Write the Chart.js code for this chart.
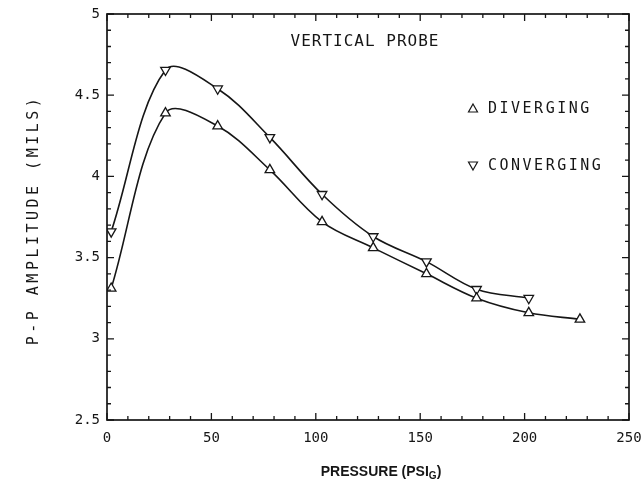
<!DOCTYPE html>
<html>
<head>
<meta charset="utf-8">
<script src="https://cdn.jsdelivr.net/npm/chart.js@4"></script>
<style>
  html, body { margin: 0; padding: 0; background: #fff; }
  #wrap { width: 642px; height: 493px; }
</style>
</head>
<body>
<div id="wrap"><canvas id="probeChart" width="642" height="493"></canvas></div>
<script>
// values
const divPressure = [2, 28, 53, 78, 103, 127.5, 153, 177, 202, 226.5];
const divAmplitude = [3.31, 4.39, 4.31, 4.04, 3.72, 3.56, 3.40, 3.25, 3.16, 3.12];
const convPressure = [2, 28, 53, 78, 103, 127.5, 153, 177, 202];
const convAmplitude = [3.66, 4.655, 4.54, 4.24, 3.89, 3.63, 3.475, 3.305, 3.25];

const xTicks = [0, 50, 100, 150, 200, 250];
const yTicks = [2.5, 3, 3.5, 4, 4.5, 5];

const ink = '#161616';
const mono = '"DejaVu Sans Mono", monospace';

function toPoints(xs, ys) {
    return xs.map(function (x, i) { return { x: x, y: ys[i] }; });
}

// frame, inward ticks and the texts of the old plotter sheet
const plotterDecor = {
    id: 'plotterDecor',
    afterDraw: function (chart) {
        const ctx = chart.ctx;
        const a = chart.chartArea;
        const xs = chart.scales.x;
        const ys = chart.scales.y;
        ctx.save();
        ctx.strokeStyle = ink;
        ctx.lineWidth = 1.7;
        ctx.strokeRect(a.left, a.top, a.right - a.left, a.bottom - a.top);

        ctx.lineWidth = 1.3;
        ctx.beginPath();
        for (let v = 0; v <= 250; v += 10) {
            const px = xs.getPixelForValue(v);
            const len = v % 50 === 0 ? 7 : 4;
            ctx.moveTo(px, a.bottom); ctx.lineTo(px, a.bottom - len);
            ctx.moveTo(px, a.top); ctx.lineTo(px, a.top + len);
        }
        for (let i = 0; i <= 25; i++) {
            const v = 2.5 + i * 0.1;
            const py = ys.getPixelForValue(v);
            const len = i % 5 === 0 ? 7 : 4;
            ctx.moveTo(a.left, py); ctx.lineTo(a.left + len, py);
            ctx.moveTo(a.right, py); ctx.lineTo(a.right - len, py);
        }
        ctx.stroke();

        ctx.fillStyle = ink;
        ctx.textBaseline = 'middle';

        // plot label
        ctx.font = '16px ' + mono;
        ctx.letterSpacing = '1px';
        ctx.textAlign = 'center';
        ctx.fillText('VERTICAL PROBE', 365, 42);

        // key
        ctx.font = '15px ' + mono;
        ctx.letterSpacing = '2.5px';
        ctx.textAlign = 'left';
        ctx.fillText('DIVERGING', 488, 109);
        ctx.fillText('CONVERGING', 488, 166);
        ctx.lineWidth = 1.2;
        ctx.beginPath();
        ctx.moveTo(473, 104); ctx.lineTo(477.5, 112); ctx.lineTo(468.5, 112); ctx.closePath();
        ctx.moveTo(473, 170); ctx.lineTo(477.5, 162); ctx.lineTo(468.5, 162); ctx.closePath();
        ctx.stroke();

        // y title
        ctx.save();
        ctx.translate(34, 220);
        ctx.rotate(-Math.PI / 2);
        ctx.font = '15px ' + mono;
        ctx.letterSpacing = '3.5px';
        ctx.textAlign = 'center';
        ctx.fillText('P-P AMPLITUDE (MILS)', 0, 0);
        ctx.restore();

        // x title with subscript G
        ctx.letterSpacing = '0px';
        ctx.textAlign = 'left';
        const main = 'PRESSURE (PSI';
        const bigFont = 'bold 14px "Liberation Sans Narrow", "Liberation Sans", Arial, sans-serif';
        const subFont = 'bold 10px "Liberation Sans Narrow", "Liberation Sans", Arial, sans-serif';
        ctx.font = bigFont;
        const w1 = ctx.measureText(main).width;
        const w3 = ctx.measureText(')').width;
        ctx.font = subFont;
        const w2 = ctx.measureText('G').width;
        const sx = 381 - (w1 + w2 + w3) / 2;
        ctx.font = bigFont;
        ctx.fillText(main, sx, 472);
        ctx.fillText(')', sx + w1 + w2, 472);
        ctx.font = subFont;
        ctx.fillText('G', sx + w1, 476);
        ctx.restore();
    }
};

const ctx = document.getElementById('probeChart').getContext('2d');
const probeChart = new Chart(ctx, {
    type: 'scatter',
    data: {
        datasets: [
            {
                label: 'DIVERGING',
                data: toPoints(divPressure, divAmplitude),
                showLine: true,
                tension: 0.35,
                borderColor: ink,
                borderWidth: 1.6,
                pointStyle: 'triangle',
                pointRadius: 5.5,
                pointBorderWidth: 1.3,
                pointBorderColor: ink,
                pointBackgroundColor: '#fff'
            },
            {
                label: 'CONVERGING',
                data: toPoints(convPressure, convAmplitude),
                showLine: true,
                tension: 0.35,
                borderColor: ink,
                borderWidth: 1.6,
                pointStyle: 'triangle',
                rotation: 180,
                pointRadius: 5.5,
                pointBorderWidth: 1.3,
                pointBorderColor: ink,
                pointBackgroundColor: '#fff'
            }
        ]
    },
    options: {
        responsive: false,
        animation: false,
        layout: { padding: { left: 0, right: 13, top: 14, bottom: 0 } },
        plugins: {
            legend: { display: false },
            tooltip: { enabled: false }
        },
        scales: {
            x: {
                type: 'linear',
                min: 0,
                max: 250,
                afterBuildTicks: function (s) { s.ticks = xTicks.map(function (v) { return { value: v }; }); },
                afterFit: function (s) { s.height = 73; s.paddingRight = 0; s.paddingLeft = 0; },
                grid: { display: false, drawTicks: false },
                border: { display: false },
                ticks: {
                    color: ink, font: { family: mono, size: 14 }, padding: 10, maxRotation: 0,
                    callback: function (v) { return String(v); }
                }
            },
            y: {
                type: 'linear',
                min: 2.5,
                max: 5,
                afterBuildTicks: function (s) { s.ticks = yTicks.map(function (v) { return { value: v }; }); },
                afterFit: function (s) { s.width = 107; s.paddingTop = 0; s.paddingBottom = 0; },
                grid: { display: false, drawTicks: false },
                border: { display: false },
                ticks: {
                    color: ink, font: { family: mono, size: 14 }, padding: 7,
                    callback: function (v) { return String(v); }
                }
            }
        }
    },
    plugins: [plotterDecor]
});
</script>
</body>
</html>
